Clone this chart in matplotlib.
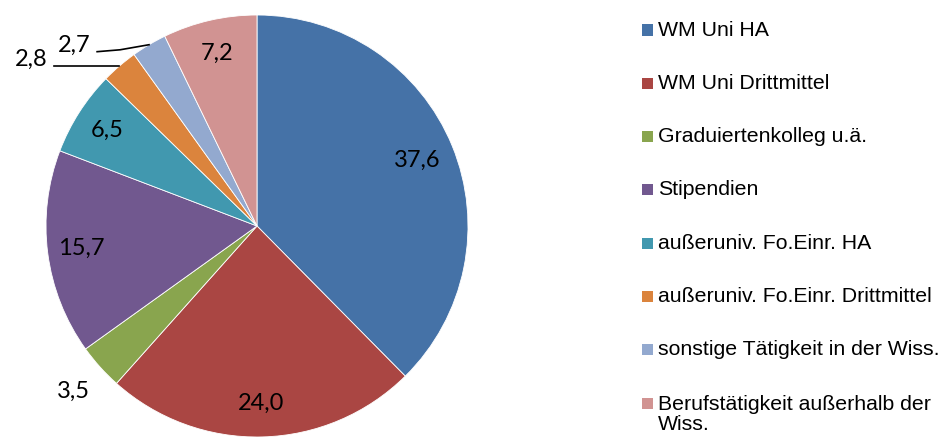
import numpy as np
import matplotlib
matplotlib.use("Agg")
import matplotlib.pyplot as plt
from matplotlib.patches import Rectangle

# data
categories = ["WM Uni HA", "WM Uni Drittmittel", "Graduiertenkolleg u.ä.", "Stipendien",
              "außeruniv. Fo.Einr. HA", "außeruniv. Fo.Einr. Drittmittel",
              "sonstige Tätigkeit in der Wiss.", "Berufstätigkeit außerhalb der\nWiss."]
values = [37.6, 24.0, 3.5, 15.7, 6.5, 2.8, 2.7, 7.2]
colors = ["#4572A7", "#AA4643", "#89A54E", "#71588F",
          "#4198AF", "#DB843D", "#93A9CF", "#D19392"]

W, H, R = 943, 437, 211.0
cx, cy = 257, 226  # pie centre in px (from top)

fig = plt.figure(figsize=(W / 100, H / 100), dpi=100)
ax = fig.add_axes([0, 0, 1, 1])

wedges, _ = ax.pie(values, colors=colors, startangle=90, counterclock=False,
                   radius=1.0, wedgeprops=dict(edgecolor="white", linewidth=0.6))
# pie resets the limits, so set them afterwards
ax.set_xlim(-cx / R, (W - cx) / R)
ax.set_ylim(-(H - cy) / R, cy / R)
ax.axis("off")

lab_font = dict(family="Lato", fontsize=17, color="black")

for i, (w, v) in enumerate(zip(wedges, values)):
    mid = np.deg2rad((w.theta1 + w.theta2) / 2)
    txt = f"{v:.1f}".replace(".", ",")
    ex, ey = np.cos(mid), np.sin(mid)
    if i == 2:
        ax.text(1.17 * ex, 1.17 * ey, txt, ha="center", va="center", **lab_font)
    elif i == 5:
        xe = ex - 0.31
        ax.plot([ex, xe], [ey, ey], color="black", lw=1.2)
        ax.text(xe - 0.03, ey, txt, ha="right", va="baseline", **lab_font)
    elif i == 6:
        xs = [ex, ex - 0.137, ex - 0.246]
        ys = [ey, ey - 0.024, ey - 0.033]
        ax.plot(xs, ys, color="black", lw=1.2)
        ax.text(xs[-1] - 0.03, ys[-1], txt, ha="right", va="baseline", **lab_font)
    else:
        r = 0.82 if i == 0 else 0.84
        ax.text(r * ex, r * ey, txt, ha="center", va="center", **lab_font)

# legend
row0, step = 30, 53.3
for i, (c, lab) in enumerate(zip(colors, categories)):
    yc = row0 + i * step
    fig.patches.append(Rectangle((642 / W, 1 - (yc + 5.5) / H), 11 / W, 11 / H,
                                 transform=fig.transFigure, facecolor=c, edgecolor="none"))
    if "\n" in lab:
        fig.text(658 / W, 1 - (yc - 8) / H, lab, ha="left", va="top",
                 family="Liberation Sans", fontsize=15.3, linespacing=1.05,
                 transform=fig.transFigure)
    else:
        fig.text(658 / W, 1 - yc / H, lab, ha="left", va="center",
                 family="Liberation Sans", fontsize=15.3, transform=fig.transFigure)

fig.savefig("out.png", dpi=100)
